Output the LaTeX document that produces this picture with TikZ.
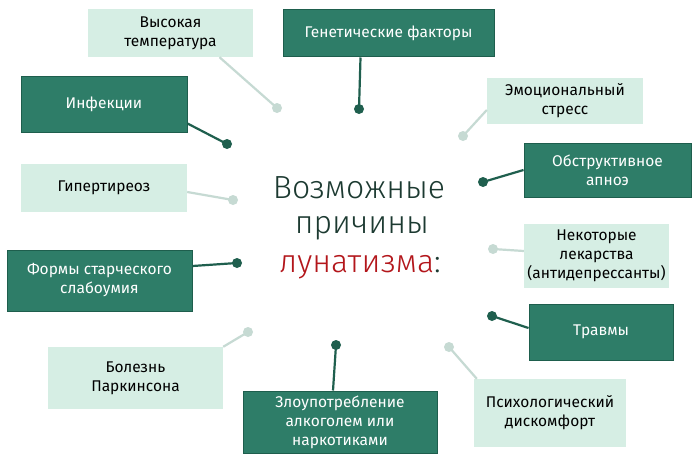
\documentclass[tikz,border=0pt]{standalone}
\usepackage{fontspec}
\setmainfont{Fira Sans}
\newfontfamily\thinfont{Fira Sans Light}
\definecolor{dkgreen}{HTML}{2E7D68}
\definecolor{dkborder}{HTML}{1E5E4D}
\definecolor{dkline}{HTML}{1F5F4E}
\definecolor{ltgreen}{HTML}{D6EEE4}
\definecolor{ltline}{HTML}{C6DAD3}
\definecolor{centertext}{HTML}{1C3A31}
\definecolor{redtext}{HTML}{B3161B}
\begin{document}
\begin{tikzpicture}[x=1pt,y=-1pt,
  darkbox/.style={fill=dkgreen,draw=dkborder,line width=1pt,text=white,align=center,font=\fontsize{15.5}{19}\selectfont,inner sep=0pt},
  lightbox/.style={fill=ltgreen,draw=none,text=black,align=center,font=\fontsize{15.5}{19}\selectfont,inner sep=0pt},
  darkline/.style={draw=dkline,line width=2.2pt},
  lightline/.style={draw=ltline,line width=2.2pt},
  darkdot/.style={circle,fill=dkline,minimum size=10pt,inner sep=0pt},
  lightdot/.style={circle,fill=ltline,minimum size=10pt,inner sep=0pt}]
\useasboundingbox (0,0) rectangle (700,468);
\fill[white] (0,0) rectangle (700,468);
% boxes (centre, width, height)
\node[lightbox,minimum width=165pt,minimum height=48pt] (vt) at (170.5,33) {Высокая\\температура};
\node[darkbox,minimum width=211pt,minimum height=47pt] (gf) at (388.5,33.5) {Генетические факторы};
\node[darkbox,minimum width=166pt,minimum height=55pt] (inf) at (104,104.5) {Инфекции};
\node[lightbox,minimum width=156pt,minimum height=46pt] (es) at (565,101) {Эмоциональный\\стресс};
\node[darkbox,minimum width=167pt,minimum height=54pt] (oa) at (607.5,170) {Обструктивное\\апноэ};
\node[lightbox,minimum width=166pt,minimum height=48pt] (gt) at (104,188) {Гипертиреоз};
\node[lightbox,minimum width=145pt,minimum height=64pt] (nl) at (596.5,256) {Некоторые\\лекарства\\(антидепрессанты)};
\node[darkbox,minimum width=185pt,minimum height=61pt] (fs) at (99.5,280.5) {Формы старческого\\слабоумия};
\node[darkbox,minimum width=144pt,minimum height=56pt] (tr) at (601,332) {Травмы};
\node[lightbox,minimum width=175pt,minimum height=62pt] (bp) at (135.5,378) {Болезнь\\Паркинсона};
\node[darkbox,minimum width=194pt,minimum height=62pt] (za) at (340,422) {Злоупотребление\\алкоголем или\\наркотиками};
\node[lightbox,minimum width=152pt,minimum height=68pt] (pd) at (550,413) {Психологический\\дискомфорт};
% dots
\node[lightdot] (d1) at (277,108) {};
\node[darkdot] (d2) at (359,109) {};
\node[darkdot] (d3) at (227,144) {};
\node[lightdot] (d4) at (463,136) {};
\node[darkdot] (d5) at (483,182) {};
\node[lightdot] (d6) at (233,200) {};
\node[lightdot] (d7) at (493,249) {};
\node[darkdot] (d8) at (237,263) {};
\node[darkdot] (d9) at (492,316) {};
\node[lightdot] (d10) at (248,332) {};
\node[darkdot] (d11) at (336,345) {};
\node[lightdot] (d12) at (449,347) {};
% connectors
\draw[lightline] ([xshift=49pt]vt.south) -- (d1.center);
\draw[darkline] ([xshift=-28pt]gf.south) -- (d2.center);
\draw[darkline] ([yshift=9pt]inf.south east) -- (d3.center);
\draw[lightline] ([yshift=-9pt]es.west) -- (d4.center);
\draw[darkline] (oa.west) -- (d5.center);
\draw[lightline] ([yshift=-4pt]gt.east) -- (d6.center);
\draw[darkline] ([yshift=14.5pt]fs.east) -- (d8.center);
\draw[lightline] ([yshift=5pt]nl.west) -- (d7.center);
\draw[darkline] ([yshift=4pt]tr.west) -- (d9.center);
\draw[lightline] (bp.north east) -- (d10.center);
\draw[darkline] ([xshift=-7pt]za.north) -- (d11.center);
\draw[lightline] ([xshift=3pt]pd.north west) -- (d12.center);
% centre title
\node[anchor=base,text=centertext,font=\thinfont\fontsize{32}{37}\selectfont] (t1) at (359,198) {Возможные};
\node[anchor=base,text=centertext,font=\thinfont\fontsize{32}{37}\selectfont] (t2) at (362,233) {причины};
\node[anchor=base,font=\thinfont\fontsize{32}{37}\selectfont] (t3) at (360,272) {\textcolor{redtext}{лунатизма}\textcolor{centertext}{:}};
\end{tikzpicture}
\end{document}
